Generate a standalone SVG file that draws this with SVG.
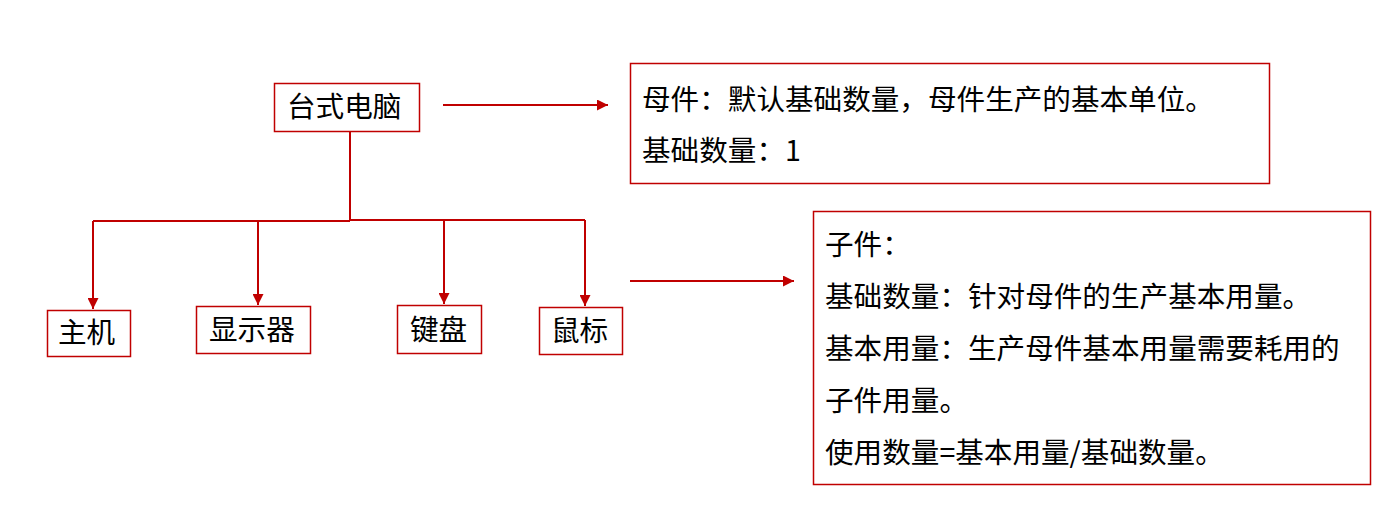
<svg xmlns="http://www.w3.org/2000/svg" width="1399" height="505" viewBox="0 0 1399 505">
<style>
.box{fill:#fff;stroke:#c00000;stroke-width:1.5}
.t{font-family:"Noto Sans CJK SC","Noto Sans",sans-serif;font-size:28.6px;fill:#000}
.ln{fill:none;stroke:#c00000;stroke-width:2}
</style>
<defs>
<marker id="ah" viewBox="0 0 10 10" refX="10" refY="5" markerWidth="5.5" markerHeight="5.5" orient="auto" markerUnits="strokeWidth">
<path d="M0,0 L10,5 L0,10 Z" fill="#c00000"/>
</marker>
</defs>
<rect width="1399" height="505" fill="#fff"/>
<g id="connectors">
<path class="ln" d="M350,131 V220"/>
<path class="ln" d="M93,221 H350"/>
<path class="ln" d="M350,220 H585"/>
<path class="ln" d="M93,221 V309" marker-end="url(#ah)"/>
<path class="ln" d="M258,221 V305" marker-end="url(#ah)"/>
<path class="ln" d="M444,220 V304" marker-end="url(#ah)"/>
<path class="ln" d="M585,220 V306" marker-end="url(#ah)"/>
<path class="ln" d="M443,105 H608" marker-end="url(#ah)"/>
<path class="ln" d="M630,281 H794" marker-end="url(#ah)"/>
</g>
<g id="root">
<rect class="box" x="274.5" y="83.5" width="145" height="48"/>
<text class="t" x="287" y="117">台式电脑</text>
</g>
<g id="zhuji">
<rect class="box" x="47.5" y="310.5" width="83" height="46"/>
<text class="t" x="58" y="343">主机</text>
</g>
<g id="xianshiqi">
<rect class="box" x="196.5" y="306.5" width="114" height="47"/>
<text class="t" x="209" y="340">显示器</text>
</g>
<g id="jianpan">
<rect class="box" x="397.5" y="305.5" width="84" height="48"/>
<text class="t" x="410" y="340">键盘</text>
</g>
<g id="shubiao">
<rect class="box" x="539.5" y="307.5" width="83" height="47"/>
<text class="t" x="551" y="341">鼠标</text>
</g>
<g id="parent-note">
<rect class="box" x="630.5" y="63.5" width="639" height="120"/>
<text class="t" x="642" y="110">母件：默认基础数量，母件生产的基本单位。</text>
<text class="t" x="642" y="161">基础数量：1</text>
</g>
<g id="child-note">
<rect class="box" x="813.5" y="211.5" width="557" height="273"/>
<text class="t" x="825" y="255">子件：</text>
<text class="t" x="825" y="307">基础数量：针对母件的生产基本用量。</text>
<text class="t" x="825" y="359">基本用量：生产母件基本用量需要耗用的</text>
<text class="t" x="825" y="411">子件用量。</text>
<text class="t" x="825" y="463">使用数量=基本用量/基础数量。</text>
</g>
</svg>
